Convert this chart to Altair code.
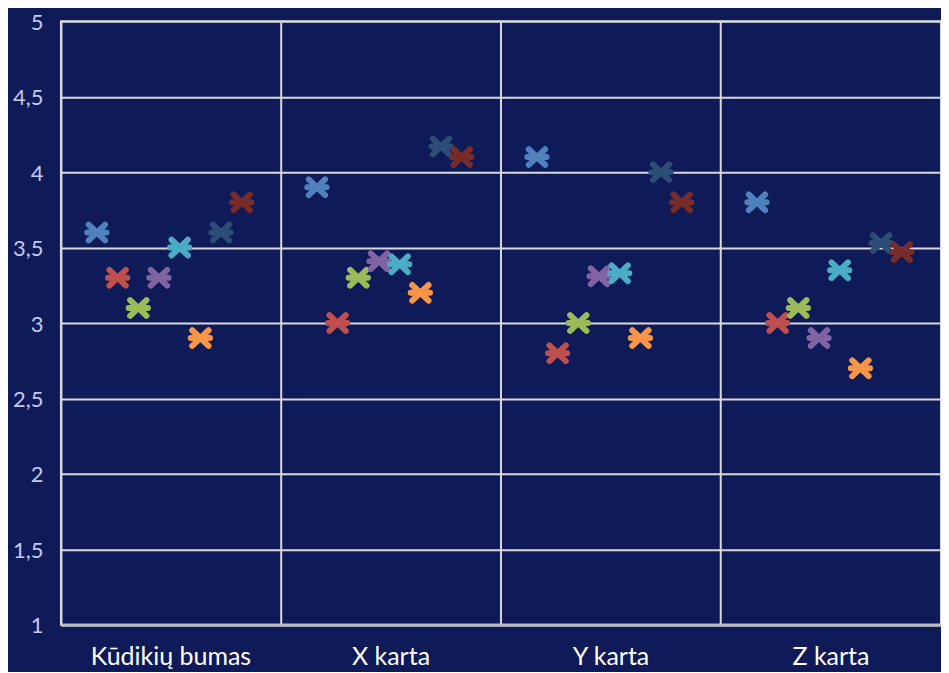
import altair as alt
import pandas as pd

categories = ["Kūdikių bumas", "X karta", "Y karta", "Z karta"]
series = ["S1", "S2", "S3", "S4", "S5", "S6", "S7", "S8"]
colors = ["#4F81BD", "#C0504D", "#9BBB59", "#8064A2", "#4BACC6", "#F79646", "#2C4D75", "#772C2A"]

v_kudikiu = [3.6, 3.3, 3.1, 3.3, 3.5, 2.9, 3.6, 3.8]
v_x = [3.9, 3.0, 3.3, 3.41, 3.39, 3.2, 4.17, 4.1]
v_y = [4.1, 2.8, 3.0, 3.31, 3.33, 2.9, 4.0, 3.8]
v_z = [3.8, 3.0, 3.1, 2.9, 3.35, 2.7, 3.53, 3.47]

y_ticks = [1, 1.5, 2, 2.5, 3, 3.5, 4, 4.5, 5]

rows = []
for cat, vals in zip(categories, [v_kudikiu, v_x, v_y, v_z]):
    for s, v in zip(series, vals):
        rows.append({"cat": cat, "series": s, "value": v})
df = pd.DataFrame(rows)

xshape = "M-0.78,-0.75L0.78,0.75M-0.78,0.75L0.78,-0.75M-0.92,0L0.92,0"

font = "Lato"

chart = alt.Chart(df).mark_point(
    shape=xshape, filled=False, size=440, strokeWidth=6, strokeCap="round", opacity=1
).encode(
    x=alt.X("cat:N", sort=categories,
            scale=alt.Scale(paddingInner=0, paddingOuter=0),
            axis=alt.Axis(title=None, labelAngle=0, grid=True, bandPosition=0,
                          ticks=False, domain=True, domainColor="#bfbfbf", domainWidth=3,
                          gridColor="#d9d9d9", gridWidth=2,
                          labelFontSize=25, labelColor="#ffffff", labelPadding=40,
                          labelBaseline="alphabetic", labelFont=font)),
    xOffset=alt.XOffset("series:N", sort=series,
                        scale=alt.Scale(type="point", range=[36, 181], padding=0)),
    y=alt.Y("value:Q", scale=alt.Scale(domain=[1, 5], nice=False, zero=False),
            axis=alt.Axis(title=None, values=y_ticks, grid=True, gridColor="#d9d9d9",
                          gridWidth=2, ticks=False, domain=False,
                          labelExpr="replace(toString(datum.value), '.', ',')",
                          labelFontSize=22, labelColor="#c2caf0", labelPadding=18,
                          labelOffset=1, labelFont=font)),
    color=alt.Color("series:N", sort=series,
                    scale=alt.Scale(domain=series, range=colors), legend=None),
).properties(
    width=881, height=604,
    background="#0f1a58",
    autosize=alt.AutoSizeParams(type="none"),
    padding={"left": 53, "top": 13, "right": 0, "bottom": 47},
).configure_view(
    stroke="#d9d9d9", strokeWidth=2
)

chart.save("out.html", embed_options={"renderer": "svg", "actions": False})
